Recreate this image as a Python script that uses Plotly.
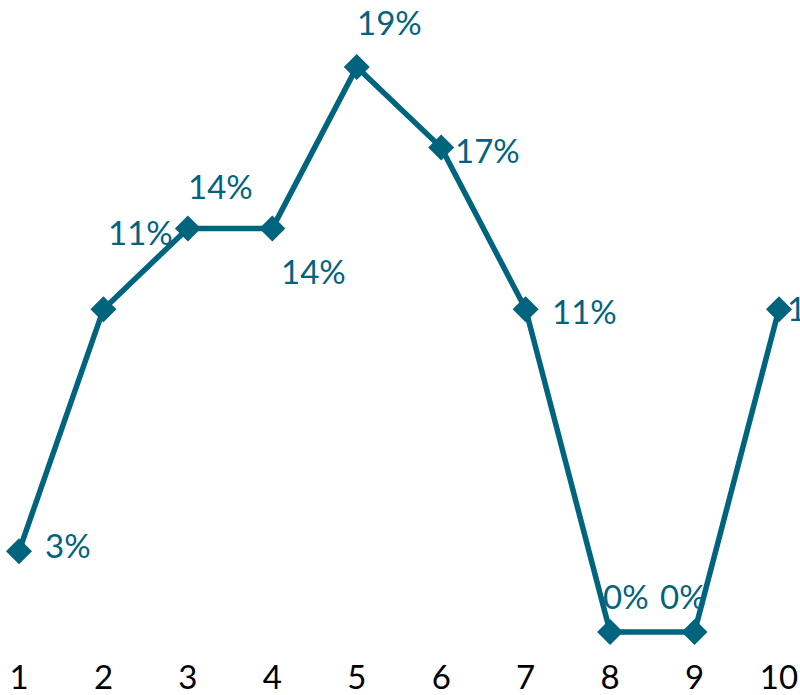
import plotly.graph_objects as go

categories = ["1", "2", "3", "4", "5", "6", "7", "8", "9", "10"]
share = [0.0278, 0.1111, 0.1389, 0.1389, 0.1944, 0.1667, 0.1111, 0.0, 0.0, 0.1111]

# label offsets in pixels (dx, dy up)
label_offsets = [(49, 6), (37, 77), (33, 42), (41, -43), (33, 45),
                 (46, -2), (59, -2), (16, 36), (-12, 36), (41, 1)]

COLOR = "#00647E"
FONT = "Lato"
xs = list(range(1, len(categories) + 1))

fig = go.Figure()
fig.add_trace(go.Scatter(
    x=xs, y=share, mode="lines+markers",
    line=dict(color=COLOR, width=5.5),
    marker=dict(symbol="diamond", size=20, color=COLOR),
    cliponaxis=False, hoverinfo="skip"))

for x, v, (dx, dy) in zip(xs, share, label_offsets):
    fig.add_annotation(x=x, y=v, xref="x", yref="y", text=f"{v:.0%}",
                       showarrow=False, xshift=dx, yshift=dy,
                       font=dict(family=FONT, size=33, color=COLOR))

fig.update_layout(
    width=800, height=695,
    margin=dict(l=0, r=0, t=0, b=50, autoexpand=False),
    paper_bgcolor="white", plot_bgcolor="white",
    showlegend=False,
    xaxis=dict(range=[0.775, 10.249], tickmode="array", tickvals=xs,
               ticktext=categories, showgrid=False, zeroline=False,
               showline=False, ticks="", ticklabelstandoff=10,
               automargin=False,
               tickfont=dict(family=FONT, size=33, color="black")),
    yaxis=dict(range=[-0.004474, 0.2175], visible=False,
               showgrid=False, zeroline=False),
)

fig.write_html("out.html")
